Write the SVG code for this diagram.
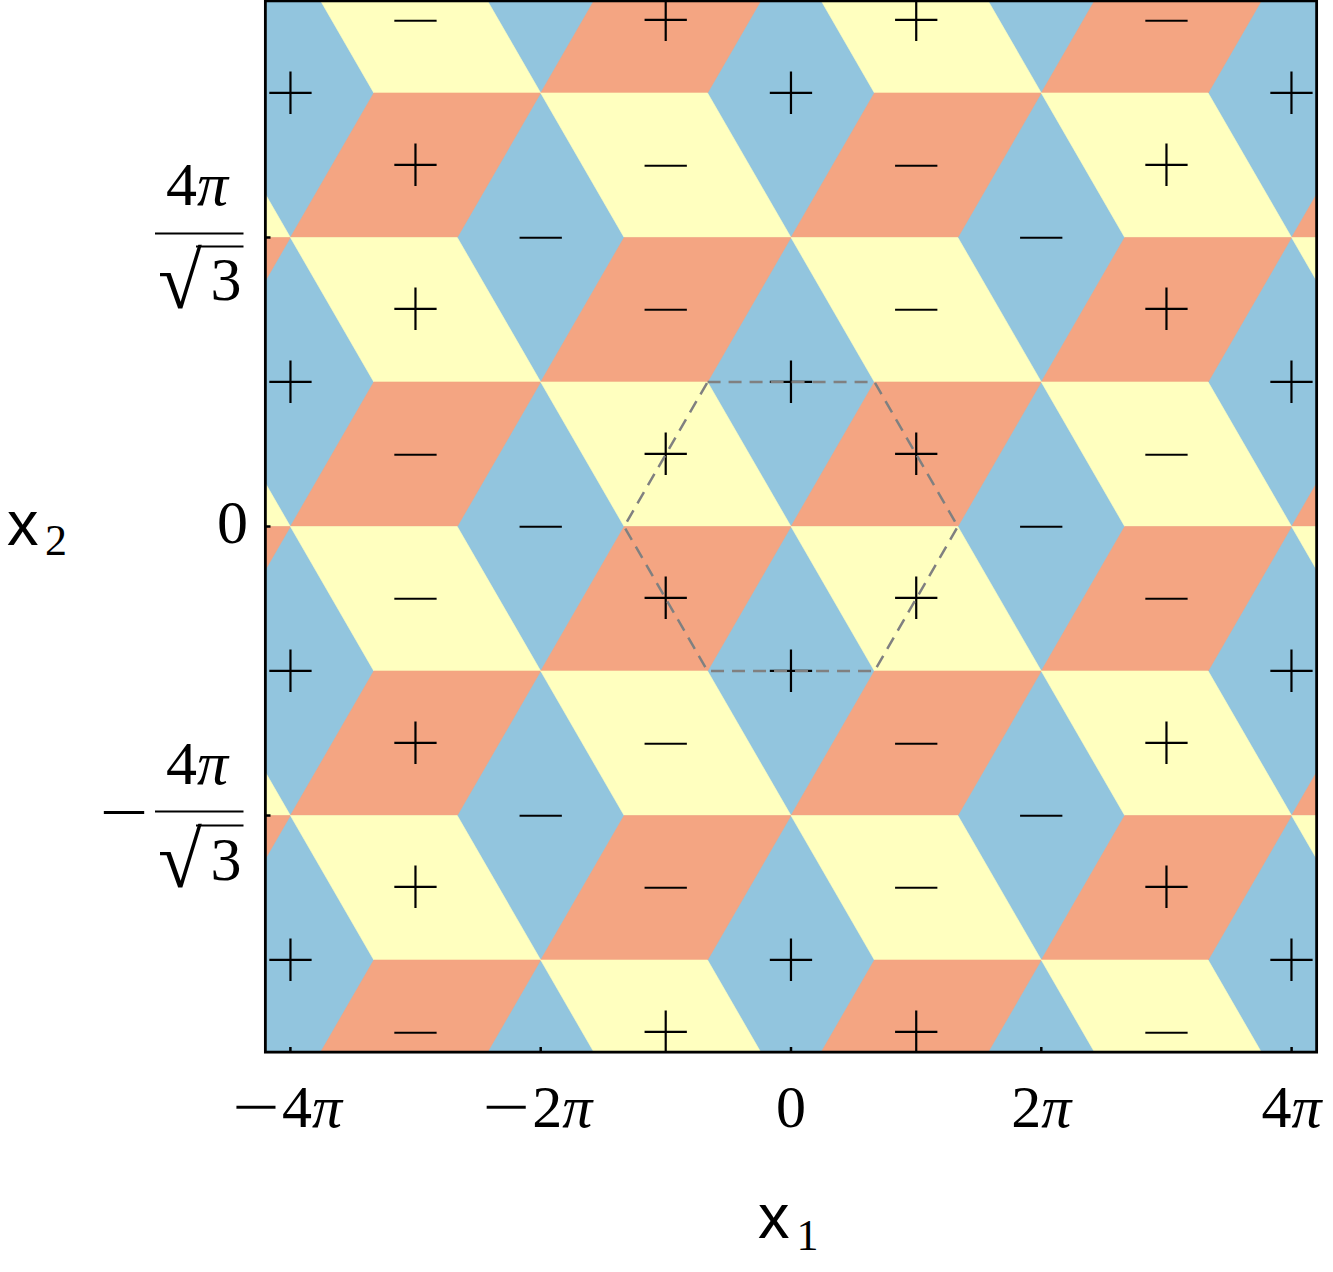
<svg xmlns="http://www.w3.org/2000/svg" width="1333" height="1272" viewBox="0 0 1333 1272">
<style>
.yel{fill:#FFFFBF;stroke:#FFFFBF;stroke-width:0.6}
.ora{fill:#F4A582;stroke:#F4A582;stroke-width:0.6}
.pm{font-family:"Noto Sans",sans-serif;font-weight:150;font-size:92px;text-anchor:middle;fill:#000}
.tk{font-family:"Liberation Serif",serif;font-size:60px;fill:#000}
.tky{font-family:"Liberation Serif",serif;font-size:62px;fill:#000}
.rad{font-family:"Liberation Serif",serif;font-size:80px;fill:#000}
.it{font-style:italic}
.ttl{font-family:"Liberation Sans",sans-serif;font-size:63px;fill:#000}
.sub{font-family:"Liberation Serif",serif;font-size:44px;text-anchor:middle;fill:#000}
.rule{stroke:#000;stroke-width:1.8}
.tick{stroke:#000;stroke-width:2.5}
</style>
<defs>
<clipPath id="plotclip"><rect x="265.37" y="0.87" width="1051.26" height="1051.26"/></clipPath>
<g id="cell">
<path class="yel" d="M0,-144.51H166.87L250.3,0H83.43Z"/>
<path class="ora" d="M83.43,0H250.3L166.87,144.51H0Z"/>
</g>
</defs>
<g id="tiles" clip-path="url(#plotclip)">
<rect x="265.37" y="0.87" width="1051.26" height="1051.26" fill="#92C5DE"/>
<use href="#cell" x="40.1" y="-51.54"/><use href="#cell" x="540.7" y="-51.54"/><use href="#cell" x="1041.3" y="-51.54"/>
<use href="#cell" x="290.4" y="92.97"/><use href="#cell" x="791" y="92.97"/><use href="#cell" x="1291.6" y="92.97"/>
<use href="#cell" x="40.1" y="237.48"/><use href="#cell" x="540.7" y="237.48"/><use href="#cell" x="1041.3" y="237.48"/>
<use href="#cell" x="290.4" y="381.99"/><use href="#cell" x="791" y="381.99"/><use href="#cell" x="1291.6" y="381.99"/>
<use href="#cell" x="40.1" y="526.5"/><use href="#cell" x="540.7" y="526.5"/><use href="#cell" x="1041.3" y="526.5"/>
<use href="#cell" x="290.4" y="671.01"/><use href="#cell" x="791" y="671.01"/><use href="#cell" x="1291.6" y="671.01"/>
<use href="#cell" x="40.1" y="815.52"/><use href="#cell" x="540.7" y="815.52"/><use href="#cell" x="1041.3" y="815.52"/>
<use href="#cell" x="290.4" y="960.03"/><use href="#cell" x="791" y="960.03"/><use href="#cell" x="1291.6" y="960.03"/>
<use href="#cell" x="40.1" y="1104.54"/><use href="#cell" x="540.7" y="1104.54"/><use href="#cell" x="1041.3" y="1104.54"/>
</g>
<g id="signs">
<text class="pm" x="415.55" y="53.2">−</text><text class="pm" x="665.85" y="53.2">+</text><text class="pm" x="916.15" y="53.2">+</text><text class="pm" x="1166.45" y="53.2">−</text>
<text class="pm" x="290.4" y="125.5">+</text><text class="pm" x="791" y="125.5">+</text><text class="pm" x="1291.6" y="125.5">+</text>
<text class="pm" x="415.55" y="197.7">+</text><text class="pm" x="665.85" y="197.7">−</text><text class="pm" x="916.15" y="197.7">−</text><text class="pm" x="1166.45" y="197.7">+</text>
<text class="pm" x="540.7" y="270">−</text><text class="pm" x="1041.3" y="270">−</text>
<text class="pm" x="415.55" y="342.2">+</text><text class="pm" x="665.85" y="342.2">−</text><text class="pm" x="916.15" y="342.2">−</text><text class="pm" x="1166.45" y="342.2">+</text>
<text class="pm" x="290.4" y="414.5">+</text><text class="pm" x="791" y="414.5">+</text><text class="pm" x="1291.6" y="414.5">+</text>
<text class="pm" x="415.55" y="486.7">−</text><text class="pm" x="665.85" y="486.7">+</text><text class="pm" x="916.15" y="486.7">+</text><text class="pm" x="1166.45" y="486.7">−</text>
<text class="pm" x="540.7" y="559">−</text><text class="pm" x="1041.3" y="559">−</text>
<text class="pm" x="415.55" y="631.2">−</text><text class="pm" x="665.85" y="631.2">+</text><text class="pm" x="916.15" y="631.2">+</text><text class="pm" x="1166.45" y="631.2">−</text>
<text class="pm" x="290.4" y="703.5">+</text><text class="pm" x="791" y="703.5">+</text><text class="pm" x="1291.6" y="703.5">+</text>
<text class="pm" x="415.55" y="775.8">+</text><text class="pm" x="665.85" y="775.8">−</text><text class="pm" x="916.15" y="775.8">−</text><text class="pm" x="1166.45" y="775.8">+</text>
<text class="pm" x="540.7" y="848">−</text><text class="pm" x="1041.3" y="848">−</text>
<text class="pm" x="415.55" y="920.3">+</text><text class="pm" x="665.85" y="920.3">−</text><text class="pm" x="916.15" y="920.3">−</text><text class="pm" x="1166.45" y="920.3">+</text>
<text class="pm" x="290.4" y="992.5">+</text><text class="pm" x="791" y="992.5">+</text><text class="pm" x="1291.6" y="992.5">+</text>
<text class="pm" x="415.55" y="1064.8">−</text><text class="pm" x="665.85" y="1064.8">+</text><text class="pm" x="916.15" y="1064.8">+</text><text class="pm" x="1166.45" y="1064.8">−</text>
</g>
<polygon id="hexagon" points="707.57,381.99 874.43,381.99 957.87,526.5 874.43,671.01 707.57,671.01 624.13,526.5" fill="none" stroke="#808080" stroke-width="2.5" stroke-dasharray="13 8"/>
<g id="frame">
<rect x="265.37" y="0.87" width="1051.26" height="1051.26" fill="none" stroke="#000" stroke-width="2.8"/>
<line class="tick" x1="290.4" y1="1052" x2="290.4" y2="1047"/>
<line class="tick" x1="540.7" y1="1052" x2="540.7" y2="1047"/>
<line class="tick" x1="791" y1="1052" x2="791" y2="1047"/>
<line class="tick" x1="1041.3" y1="1052" x2="1041.3" y2="1047"/>
<line class="tick" x1="1291.6" y1="1052" x2="1291.6" y2="1047"/>
<line class="tick" x1="265.5" y1="237.48" x2="270.5" y2="237.48"/>
<line class="tick" x1="265.5" y1="526.5" x2="270.5" y2="526.5"/>
<line class="tick" x1="265.5" y1="815.52" x2="270.5" y2="815.52"/>
</g>
<g id="xticklabels">
<text class="tk" text-anchor="middle" transform="translate(256,1127) scale(1.4,1)">−</text>
<text class="tk" x="282" y="1127">4<tspan class="it">π</tspan></text>
<text class="tk" text-anchor="middle" transform="translate(506.3,1127) scale(1.4,1)">−</text>
<text class="tk" x="532.3" y="1127">2<tspan class="it">π</tspan></text>
<text class="tk" x="791" y="1127" text-anchor="middle">0</text>
<text class="tk" x="1041.3" y="1127" text-anchor="middle">2<tspan class="it">π</tspan></text>
<text class="tk" x="1291.6" y="1127" text-anchor="middle">4<tspan class="it">π</tspan></text>
</g>
<g id="yticklabels">
<text class="tky" x="248" y="543" text-anchor="end">0</text>
<text class="tky" x="197" y="205" text-anchor="middle">4<tspan class="it">π</tspan></text>
<line class="rule" x1="155" y1="233.5" x2="243.5" y2="233.5"/>
<text class="rad" x="158" y="308">√</text>
<line class="rule" x1="196" y1="246.5" x2="243.5" y2="246.5"/>
<text class="tky" x="226" y="300" text-anchor="middle">3</text>
<text class="tky" text-anchor="middle" transform="translate(124,833) scale(1.4,1)">−</text>
<text class="tky" x="197" y="783.5" text-anchor="middle">4<tspan class="it">π</tspan></text>
<line class="rule" x1="155" y1="811.5" x2="243.5" y2="811.5"/>
<text class="rad" x="158" y="887">√</text>
<line class="rule" x1="196" y1="825.5" x2="243.5" y2="825.5"/>
<text class="tky" x="226" y="879.5" text-anchor="middle">3</text>
</g>
<g id="axistitles">
<text class="ttl" x="758" y="1238">x</text><text class="sub" x="807.5" y="1250">1</text>
<text class="ttl" x="7" y="545">x</text><text class="sub" x="56" y="555">2</text>
</g>
</svg>
